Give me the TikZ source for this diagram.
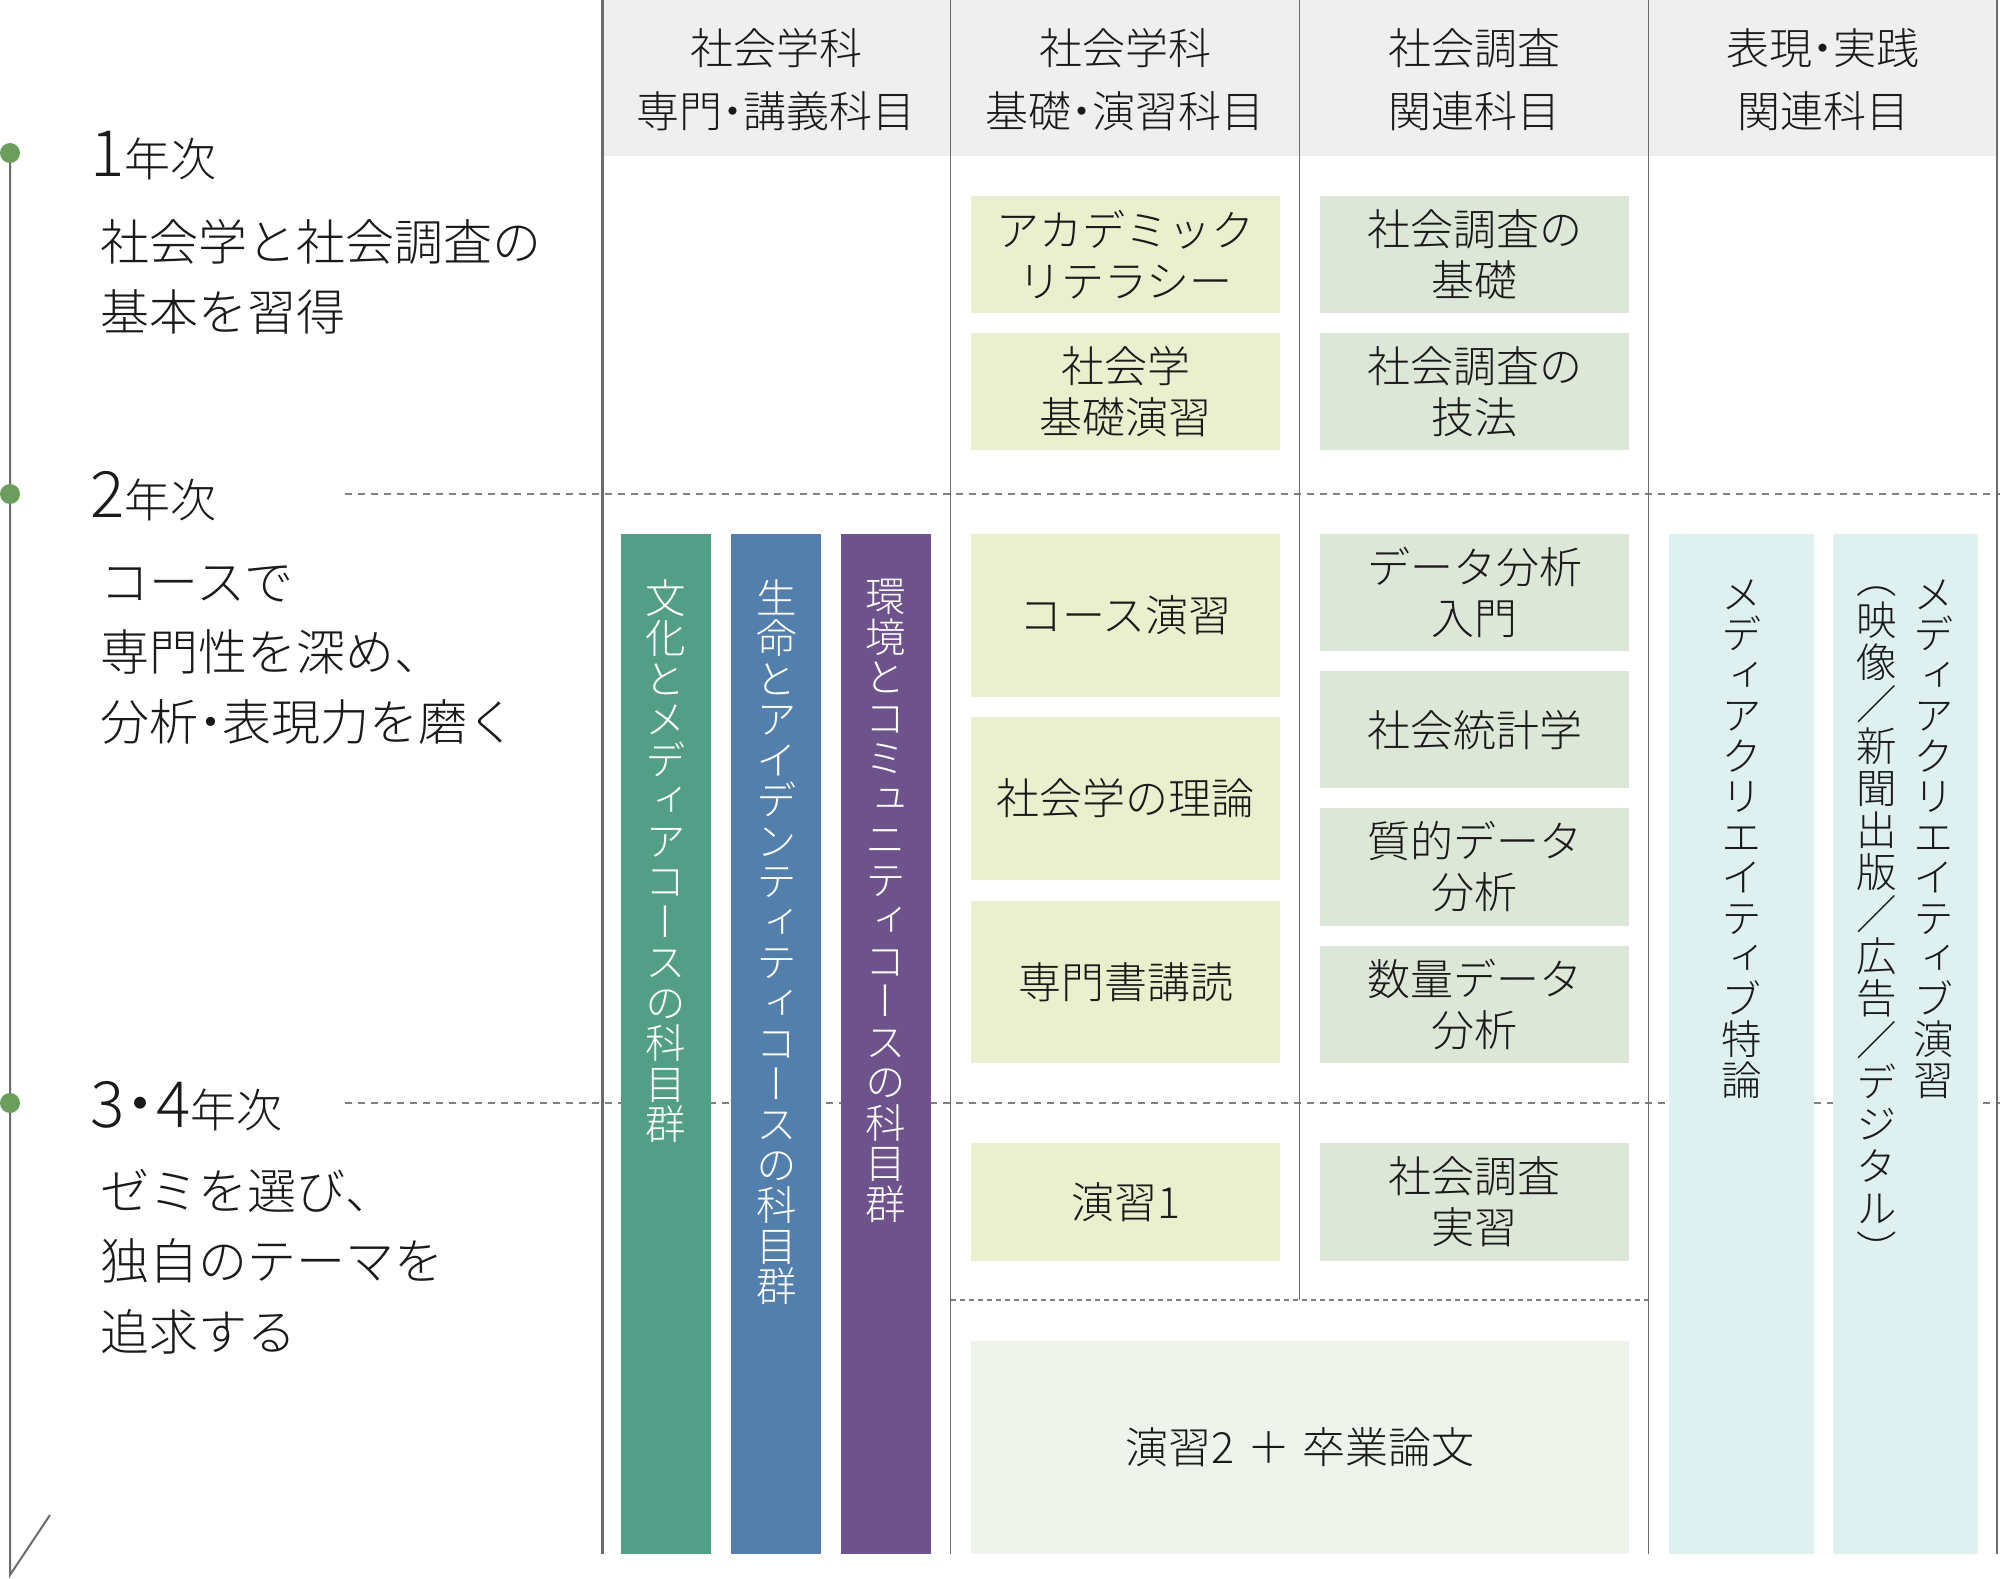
\documentclass[tikz,border=0pt]{standalone}
\usepackage{fontspec}
\IfFontExistsTF{Noto Sans CJK JP Light}{%
  \setmainfont{Noto Sans CJK JP Light}%
  \newfontfamily\jpf{Noto Sans CJK JP Light}%
  \newfontfamily\jpvf[RawFeature=+vert]{Noto Sans CJK JP Light}%
}{%
  \setmainfont{Noto Sans CJK JP}%
  \newfontfamily\jpf{Noto Sans CJK JP}%
  \newfontfamily\jpvf[RawFeature=+vert]{Noto Sans CJK JP}%
}
\XeTeXuseglyphmetrics=1
\definecolor{hdr}{HTML}{EFEFEF}
\definecolor{boxY}{HTML}{EAF0CD}
\definecolor{boxG}{HTML}{DDE7D7}
\definecolor{boxL}{HTML}{EEF3EB}
\definecolor{boxC}{HTML}{DFF0F0}
\definecolor{barG}{HTML}{529E86}
\definecolor{barB}{HTML}{527FAC}
\definecolor{barP}{HTML}{6E528C}
\definecolor{lnc}{HTML}{6B6B6B}
\definecolor{dshc}{HTML}{808080}
\definecolor{dotc}{HTML}{6B9D5D}
\definecolor{txt}{HTML}{1A1A1A}
\newcommand{\nakapt}{\kern-.25em・\kern-.25em}
\newcommand{\boxfs}{\fontsize{21.5pt}{25.5pt}\selectfont}
\newcommand{\hdrfs}{\fontsize{21.5pt}{31.5pt}\selectfont}
\newcommand{\leftfs}{\fontsize{24.5pt}{24.5pt}\selectfont}
\newcommand{\vfs}{\jpvf\fontsize{20.25pt}{20.25pt}\selectfont}
\newcommand{\vfsp}{\jpvf\fontsize{20.25pt}{21pt}\selectfont}
\newcommand{\yrnum}{\fontsize{32pt}{32pt}\selectfont}
\newcommand{\yrtxt}{\fontsize{23pt}{23pt}\selectfont}
\begin{document}
\begin{tikzpicture}[x=0.5pt,y=-0.5pt,
  cbox/.style={inner sep=0pt, align=center, text=txt, font=\boxfs, minimum width=154.5pt},
  vbar/.style={inner sep=0pt, minimum width=45pt, minimum height=510pt},
  cbar/.style={inner sep=0pt, minimum width=72.25pt, minimum height=510pt, fill=boxC},
  vtxt/.style={inner sep=0pt, align=center, font=\vfs, anchor=north},
  hdrtxt/.style={inner sep=0pt, align=center, text=txt, font=\hdrfs},
  lefttxt/.style={inner sep=0pt, anchor=base west, text=txt, font=\leftfs},
  yrlabel/.style={inner sep=0pt, anchor=base west, text=txt},
  dot/.style={circle, fill=dotc, minimum size=10pt, inner sep=0pt},
  sepmain/.style={draw=lnc, line width=1.5pt},
  sepline/.style={draw=lnc, line width=0.75pt},
  dashln/.style={draw=dshc, line width=0.75pt, dash pattern=on 3.5pt off 3pt},
  dashln2/.style={draw=dshc, line width=0.75pt, dash pattern=on 2.5pt off 2pt},
  tline/.style={draw=lnc, line width=1pt}
]
\useasboundingbox (0,0) rectangle (2000,1578);

% header background
\fill[hdr] (602,0) rectangle (1997,156);

% dashed year separators
\coordinate (h1s) at (345,494);  \coordinate (h1e) at (2000,494);
\coordinate (h2s) at (345,1103); \coordinate (h2e) at (2000,1103);
\coordinate (h3s) at (951,1300); \coordinate (h3e) at (1649,1300);
\draw[dashln] (h1s) -- (h1e);
\draw[dashln] (h2s) -- (h2e);
\draw[dashln2] (h3s) -- (h3e);

% timeline
\coordinate (p1) at (10,153);
\coordinate (p2) at (10,494);
\coordinate (p3) at (10,1103);
\coordinate (tend) at (10,1575);
\coordinate (tslash) at (50,1515);
\draw[tline] (p1) -- (p2) -- (p3) -- (tend) -- (tslash);
\node[dot] (d1) at (p1) {};
\node[dot] (d2) at (p2) {};
\node[dot] (d3) at (p3) {};

% year labels
\node[yrlabel] (y1) at (90,177) {{\yrnum 1}{\yrtxt 年次}};
\node[yrlabel] (y2) at (90,517) {{\yrnum 2}{\yrtxt 年次}};
\node[yrlabel] (y3) at (90,1127) {{\yrnum 3\nakapt 4}{\yrtxt 年次}};

% left descriptions
\node[lefttxt] (t1a) at (100,260) {社会学と社会調査の};
\node[lefttxt] (t1b) at (100,330) {基本を習得};
\node[lefttxt] (t2a) at (100,600) {コースで};
\node[lefttxt] (t2b) at (100,670) {専門性を深め、};
\node[lefttxt] (t2c) at (100,740) {分析\nakapt 表現力を磨く};
\node[lefttxt] (t3a) at (100,1209) {ゼミを選び、};
\node[lefttxt] (t3b) at (100,1279) {独自のテーマを};
\node[lefttxt] (t3c) at (100,1350) {追求する};

% headers
\node[hdrtxt] (hd1) at (776,80) {社会学科\\専門\nakapt 講義科目};
\node[hdrtxt] (hd2) at (1125,80) {社会学科\\基礎\nakapt 演習科目};
\node[hdrtxt] (hd3) at (1474,80) {社会調査\\関連科目};
\node[hdrtxt] (hd4) at (1823,80) {表現\nakapt 実践\\関連科目};

% course bars (column 1)
\node[vbar, fill=barG] (bg) at (666,1044) {};
\node[vbar, fill=barB] (bb) at (776.25,1044) {};
\node[vbar, fill=barP] (bp) at (885.5,1044) {};
\node[vtxt, text=white] (bgt) at (666,579) {文\\化\\と\\メ\\デ\\ィ\\ア\\コ\\ー\\ス\\の\\科\\目\\群};
\node[vtxt, text=white] (bbt) at (776.25,579) {生\\命\\と\\ア\\イ\\デ\\ン\\テ\\ィ\\テ\\ィ\\コ\\ー\\ス\\の\\科\\目\\群};
\node[vtxt, text=white] (bpt) at (885.5,579) {環\\境\\と\\コ\\ミ\\ュ\\ニ\\テ\\ィ\\コ\\ー\\ス\\の\\科\\目\\群};

% column 2 boxes
\node[cbox, fill=boxY, minimum height=58.5pt] (b1) at (1125.5,254.5) {アカデミック\\リテラシー};
\node[cbox, fill=boxY, minimum height=58.5pt] (b2) at (1125.5,391.5) {社会学\\基礎演習};
\node[cbox, fill=boxY, minimum height=81.3pt] (b3) at (1125.5,615.3) {コース演習};
\node[cbox, fill=boxY, minimum height=81.3pt] (b4) at (1125.5,798.5) {社会学の理論};
\node[cbox, fill=boxY, minimum height=81pt] (b5) at (1125.5,982) {専門書講読};
\node[cbox, fill=boxY, minimum height=59pt] (b6) at (1125.5,1202) {演習1};

% column 3 boxes
\node[cbox, fill=boxG, minimum height=58.5pt] (c1) at (1474.5,254.5) {社会調査の\\基礎};
\node[cbox, fill=boxG, minimum height=58.5pt] (c2) at (1474.5,391.5) {社会調査の\\技法};
\node[cbox, fill=boxG, minimum height=58.5pt] (c3) at (1474.5,592.5) {データ分析\\入門};
\node[cbox, fill=boxG, minimum height=58.7pt] (c4) at (1474.5,729.75) {社会統計学};
\node[cbox, fill=boxG, minimum height=59pt] (c5) at (1474.5,867) {質的データ\\分析};
\node[cbox, fill=boxG, minimum height=58.5pt] (c6) at (1474.5,1004.5) {数量データ\\分析};
\node[cbox, fill=boxG, minimum height=59pt] (c7) at (1474.5,1202) {社会調査\\実習};

% columns 2+3
\node[cbox, fill=boxL, minimum width=329pt, minimum height=106.7pt] (e2) at (1300,1447.3) {演習2\hspace{0.3em}＋\hspace{0.3em}卒業論文};

% column 4 bars
\node[cbar] (m1) at (1741.25,1044) {};
\node[cbar] (m2) at (1905.5,1044) {};
\node[vtxt, text=txt] (m1t) at (1741.25,579) {メ\\デ\\ィ\\ア\\ク\\リ\\エ\\イ\\テ\\ィ\\ブ\\特\\論};
\node[vtxt, text=txt] (m2t) at (1934,579) {メ\\デ\\ィ\\ア\\ク\\リ\\エ\\イ\\テ\\ィ\\ブ\\演\\習};
\node[vtxt, text=txt, font=\vfsp] (m2p) at (1877,586) {（\\映\\像\\{\jpf ／}\\新\\聞\\出\\版\\{\jpf ／}\\広\\告\\{\jpf ／}\\デ\\ジ\\タ\\ル\\）};

% vertical separators
\coordinate (v0t) at (602,0);    \coordinate (v0b) at (602,1554);
\coordinate (v1t) at (950.5,0);  \coordinate (v1b) at (950.5,1554);
\coordinate (v2t) at (1299.7,0); \coordinate (v2b) at (1299.7,1300);
\coordinate (v3t) at (1648.7,0); \coordinate (v3b) at (1648.7,1554);
\coordinate (v4t) at (1997,0);   \coordinate (v4b) at (1997,1554);
\draw[sepmain] (v0t) -- (v0b);
\draw[sepline] (v1t) -- (v1b);
\draw[sepline] (v2t) -- (v2b);
\draw[sepline] (v3t) -- (v3b);
\draw[sepline] (v4t) -- (v4b);
\end{tikzpicture}
\end{document}
